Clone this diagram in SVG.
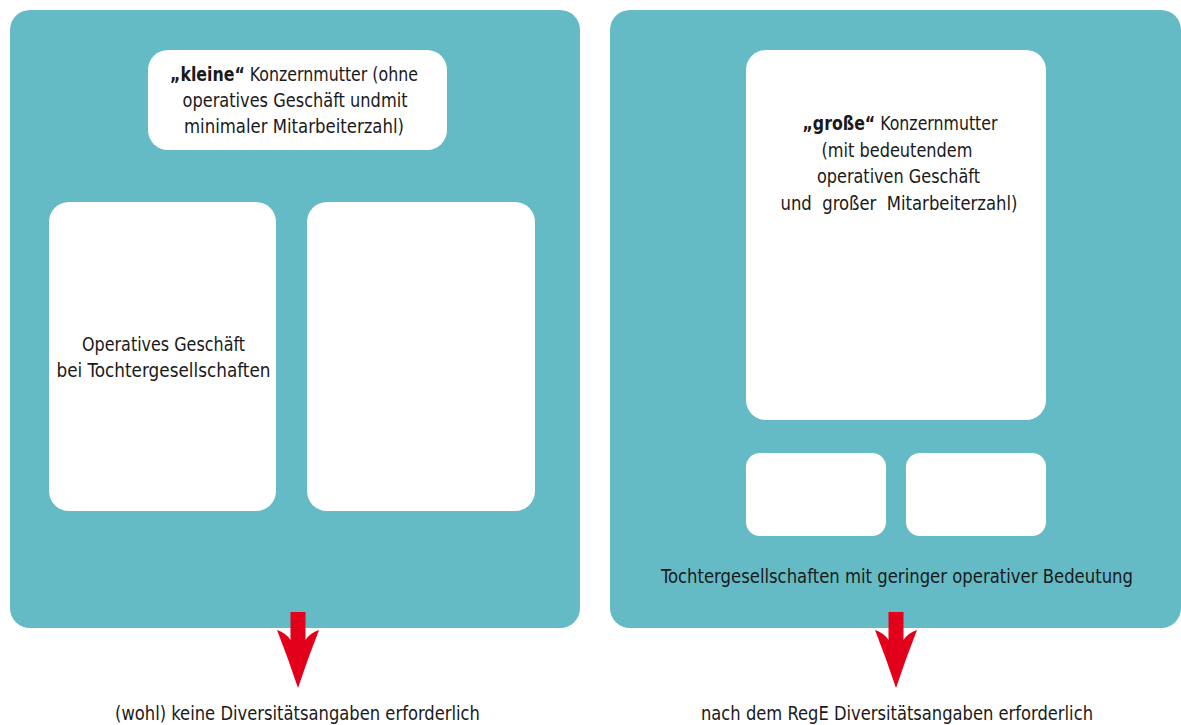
<svg xmlns="http://www.w3.org/2000/svg" width="1181" height="725" viewBox="0 0 1181 725">
<defs>
<style>
.panel{fill:#64BAC5}
.box{fill:#FFFFFF}
.t{font-family:"Liberation Sans Narrow","DejaVu Sans Condensed","Liberation Sans",sans-serif;font-size:19.5px;fill:#1A1A1A;text-anchor:middle}
.b{font-weight:bold}
.arrow{fill:#E2001A}
</style>
<path id="arr" d="M-7.5,612 L7.5,612 L7.5,640 Q12,633 21,630 Q10,658 0,688 Q-10,658 -21,630 Q-12,633 -7.5,640 Z"/>
</defs>
<rect width="1181" height="725" fill="#FFFFFF"/>
<g id="panel-left">
<rect class="panel" x="10" y="10" width="570" height="618" rx="20"/>
</g>
<g id="panel-right">
<rect class="panel" x="610" y="10" width="571" height="618" rx="20"/>
</g>
<g id="node-kleine">
<rect class="box" x="148" y="50" width="299" height="100" rx="20"/>
<text class="t" x="294" y="81" textLength="248" lengthAdjust="spacingAndGlyphs"><tspan class="b">„kleine“</tspan> Konzernmutter (ohne</text>
<text class="t" x="295" y="107" textLength="225" lengthAdjust="spacingAndGlyphs">operatives Geschäft undmit</text>
<text class="t" x="294" y="133" textLength="220" lengthAdjust="spacingAndGlyphs">minimaler Mitarbeiterzahl)</text>
</g>
<g id="node-tochter-left-1">
<rect class="box" x="49" y="202" width="227" height="309" rx="20"/>
<text class="t" x="163.5" y="351" textLength="163" lengthAdjust="spacingAndGlyphs">Operatives Geschäft</text>
<text class="t" x="163.5" y="377" textLength="214" lengthAdjust="spacingAndGlyphs">bei Tochtergesellschaften</text>
</g>
<g id="node-tochter-left-2">
<rect class="box" x="307" y="202" width="228" height="309" rx="20"/>
</g>
<g id="node-grosse">
<rect class="box" x="746" y="50" width="300" height="370" rx="20"/>
<text class="t" x="900" y="130" textLength="195" lengthAdjust="spacingAndGlyphs"><tspan class="b">„große“</tspan> Konzernmutter</text>
<text class="t" x="897" y="157" textLength="151" lengthAdjust="spacingAndGlyphs">(mit bedeutendem</text>
<text class="t" x="898.5" y="183" textLength="163" lengthAdjust="spacingAndGlyphs">operativen Geschäft</text>
<text class="t" x="899" y="210" textLength="237" lengthAdjust="spacingAndGlyphs" xml:space="preserve">und  großer  Mitarbeiterzahl)</text>
</g>
<g id="node-tochter-right-1">
<rect class="box" x="746" y="453" width="140" height="83" rx="14"/>
</g>
<g id="node-tochter-right-2">
<rect class="box" x="906" y="453" width="140" height="83" rx="14"/>
</g>
<g id="label-tochter-right">
<text class="t" x="897" y="583" textLength="472" lengthAdjust="spacingAndGlyphs">Tochtergesellschaften mit geringer operativer Bedeutung</text>
</g>
<g id="connectors">
<use href="#arr" class="arrow" transform="translate(298,0)"/>
<use href="#arr" class="arrow" transform="translate(896,0)"/>
</g>
<g id="result-left">
<text class="t" x="297.5" y="720" textLength="365" lengthAdjust="spacingAndGlyphs">(wohl) keine Diversitätsangaben erforderlich</text>
</g>
<g id="result-right">
<text class="t" x="897" y="720" textLength="392" lengthAdjust="spacingAndGlyphs">nach dem RegE Diversitätsangaben erforderlich</text>
</g>
</svg>
